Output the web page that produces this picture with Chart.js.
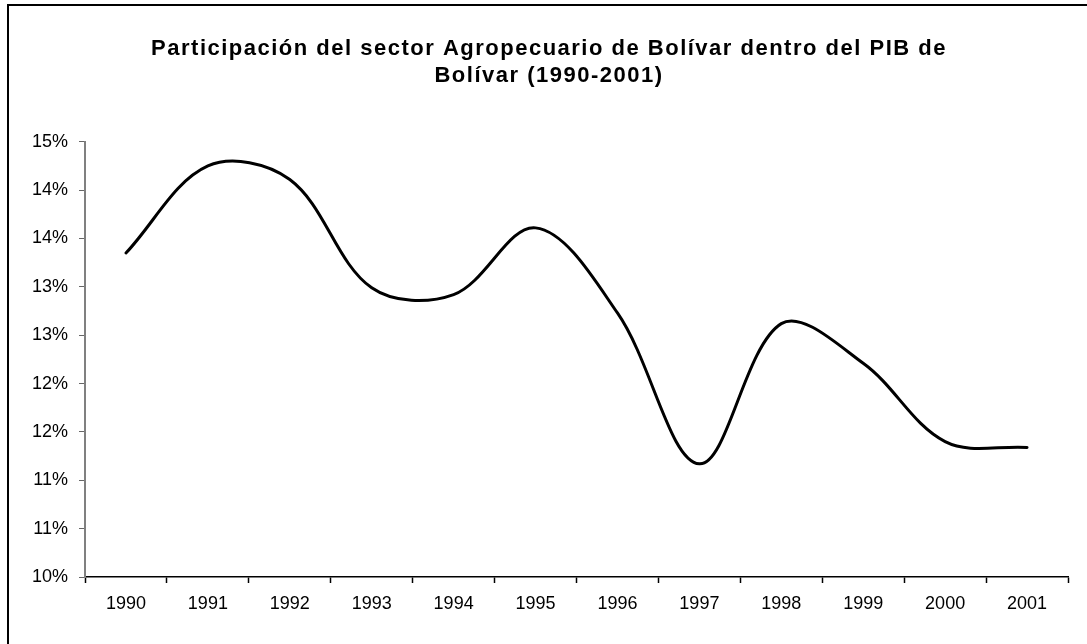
<!DOCTYPE html>
<html>
<head>
<meta charset="utf-8">
<script src="https://cdn.jsdelivr.net/npm/chart.js@4.4.1/dist/chart.umd.min.js"></script>
<style>
  html, body { margin: 0; padding: 0; background: #fff; overflow: hidden; }
  #frame { position: absolute; left: 7px; top: 4px; width: 2000px; height: 2000px;
           border-left: 2px solid #000; border-top: 2px solid #000; }
  #c { position: absolute; left: 0; top: 0; }
</style>
</head>
<body>
<div id="frame"></div>
<canvas id="c" width="1087" height="644"></canvas>
<script>
const years = ['1990','1991','1992','1993','1994','1995','1996','1997','1998','1999','2000','2001'];
const participation = [13.35, 14.25, 14.11, 12.99, 12.92, 13.61, 12.73, 11.17, 12.62, 12.21, 11.40, 11.34];
const yMin = 10, yMax = 14.5, yStep = 0.5;
const titleLines = ['Participación del sector Agropecuario de Bolívar dentro del PIB de', 'Bolívar (1990-2001)'];

const spacedTitle = {
  id: 'spacedTitle',
  beforeDraw(chart) {
    const tb = chart.titleBlock;
    if (tb && !tb._spaced) {
      const orig = tb.draw.bind(tb);
      tb.draw = function (area) {
        const ctx = this.ctx;
        const prev = ctx.letterSpacing;
        ctx.letterSpacing = '1.5px';
        orig(area);
        ctx.letterSpacing = prev || '0px';
      };
      tb._spaced = true;
    }
  }
};

new Chart(document.getElementById('c'), {
  type: 'line',
  data: {
    labels: years,
    datasets: [{
      data: participation,
      borderColor: '#000',
      borderWidth: 3,
      pointRadius: 0,
      fill: false,
      tension: 0.35,
      borderCapStyle: 'round',
      borderJoinStyle: 'round'
    }]
  },
  plugins: [spacedTitle],
  options: {
    responsive: false,
    animation: false,
    layout: { padding: { left: 30, right: 19, top: 0, bottom: 0 } },
    plugins: {
      legend: { display: false },
      tooltip: { enabled: false },
      title: {
        display: true,
        text: titleLines,
        color: '#000',
        font: { family: 'Liberation Sans, Arial, sans-serif', size: 22, weight: 'bold', lineHeight: 1.2 },
        padding: { top: 36, bottom: 53 }
      }
    },
    scales: {
      x: {
        offset: true,
        grid: { display: true, drawOnChartArea: false, offset: true, tickLength: 6, color: '#000', tickWidth: 1.5 },
        border: { display: true, color: '#000', width: 1.5 },
        ticks: { color: '#000', padding: 10, maxRotation: 0, autoSkip: false,
                 font: { family: 'Liberation Sans, Arial, sans-serif', size: 18 } },
        afterFit(scale) { scale.height = 67; }
      },
      y: {
        min: yMin, max: yMax,
        grid: { display: true, drawOnChartArea: false, tickLength: 6, color: '#666' },
        border: { display: true, color: '#808080', width: 2 },
        ticks: { stepSize: yStep, color: '#000', padding: 11,
                 font: { family: 'Liberation Sans, Arial, sans-serif', size: 18 },
                 callback: (v) => Math.round(v + 1e-9) + '%' },
        afterFit(scale) { scale.width = 55; }
      }
    }
  }
});
</script>
</body>
</html>
